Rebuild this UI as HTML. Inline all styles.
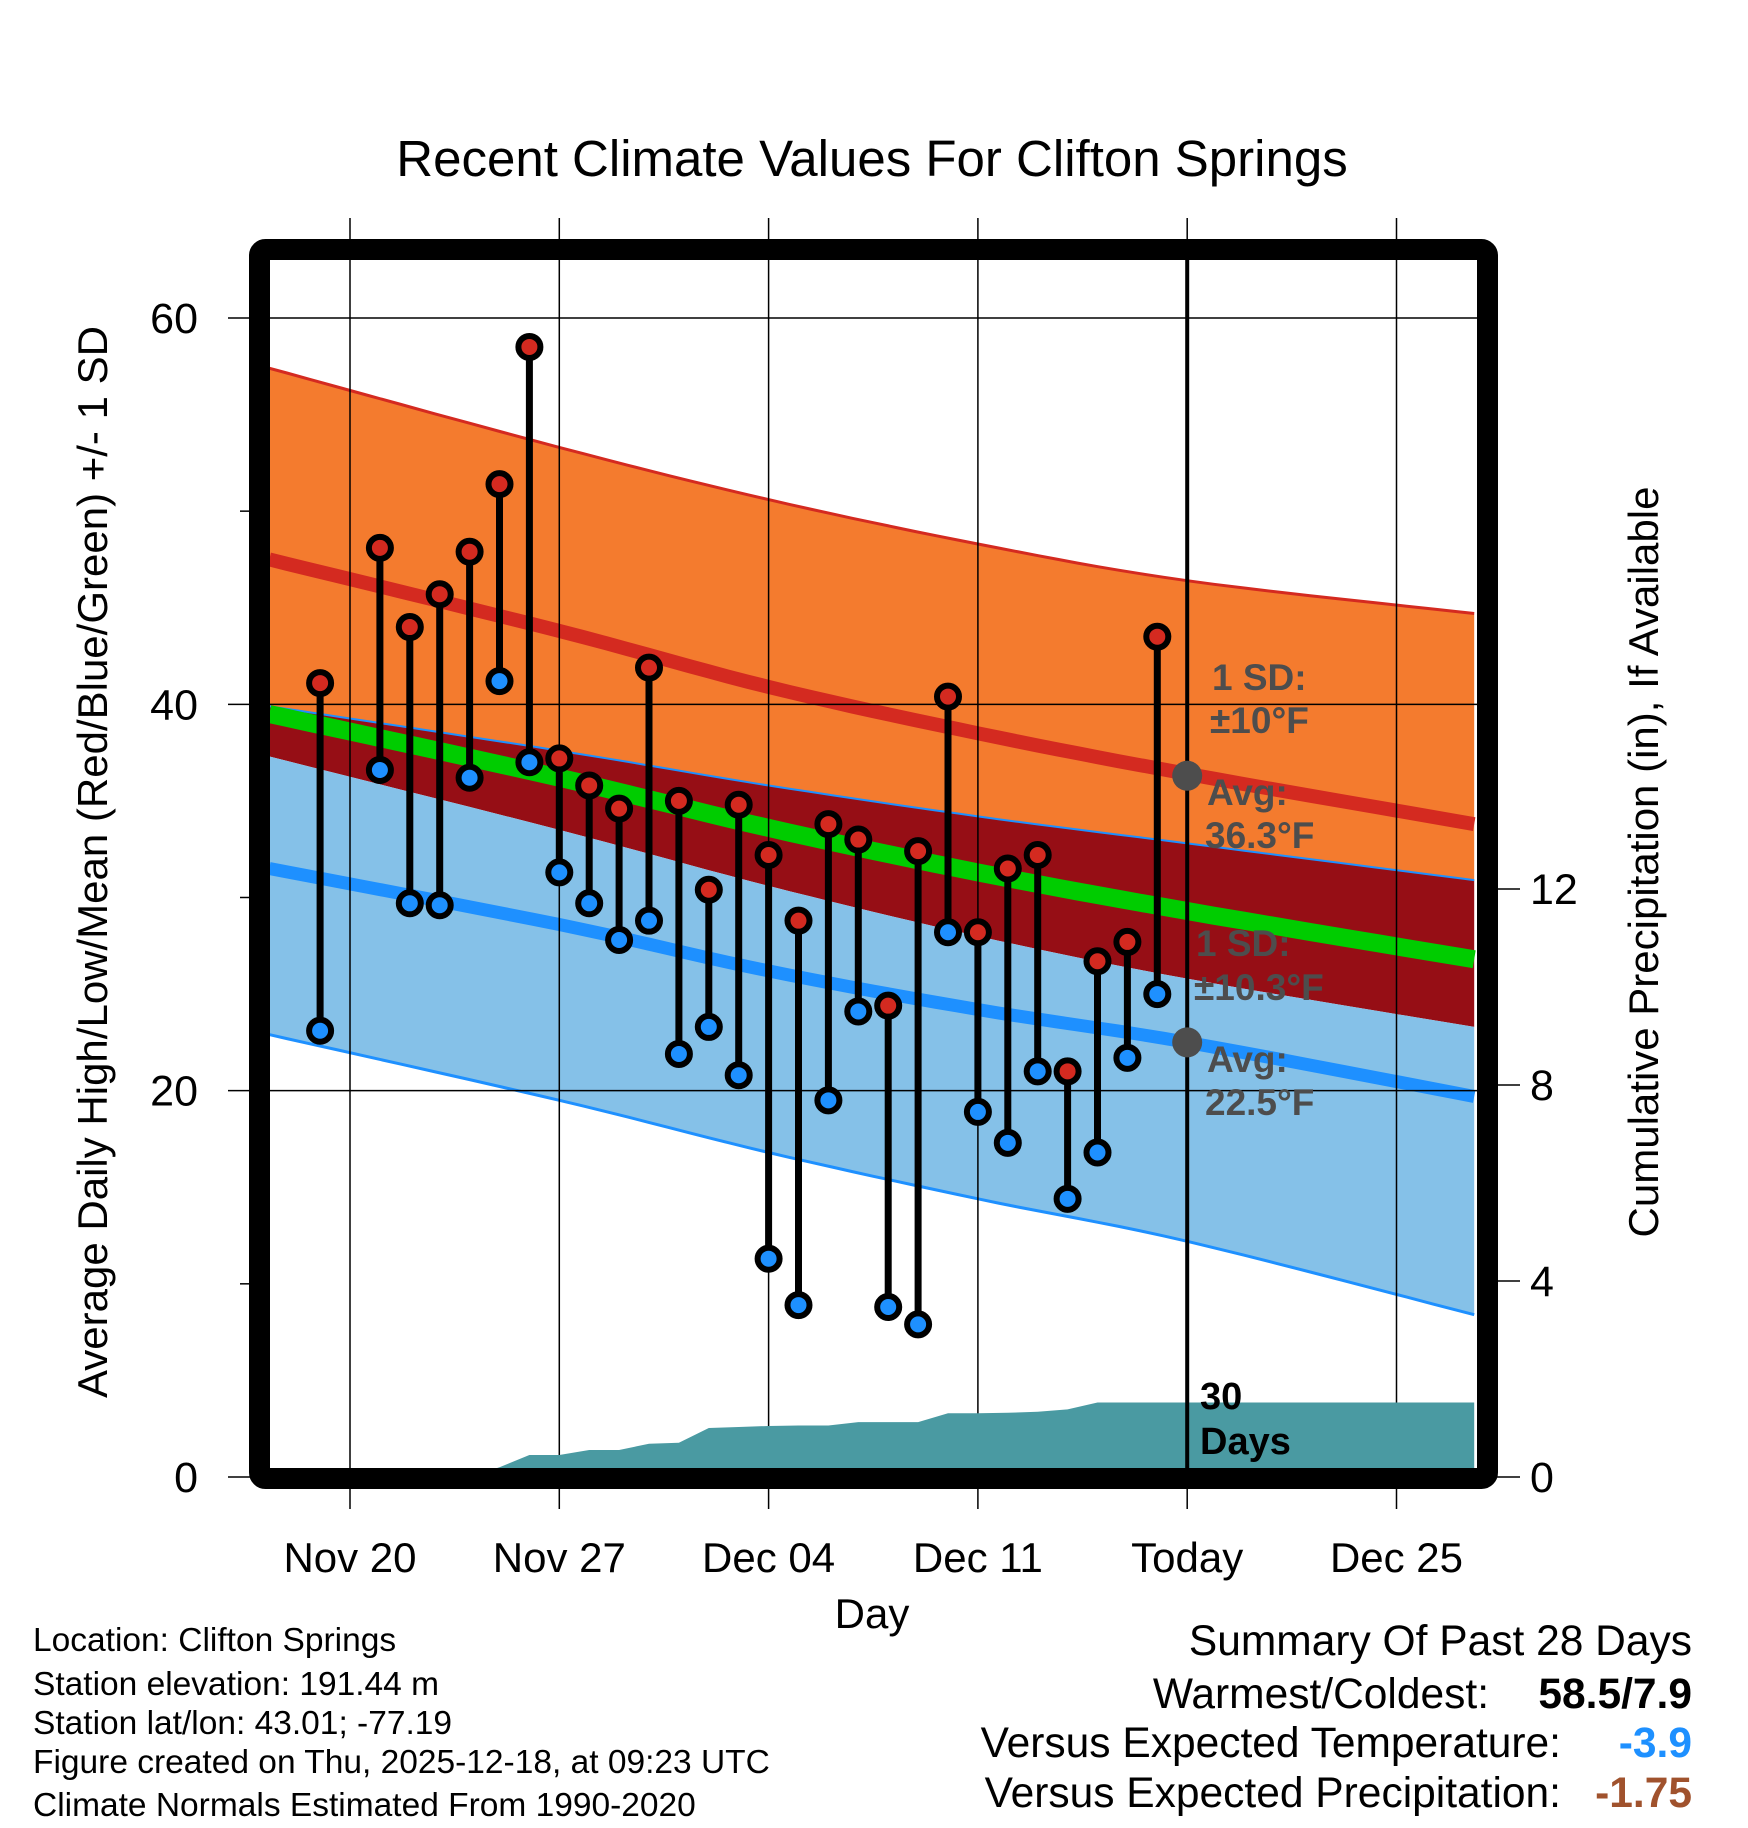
<!DOCTYPE html>
<html><head><meta charset="utf-8"><style>
html,body{margin:0;padding:0;background:#fff;}
svg{display:block;font-family:"Liberation Sans",Arial,sans-serif;}
</style></head><body>
<svg id="chart" width="1748" height="1828" viewBox="0 0 1748 1828" xmlns="http://www.w3.org/2000/svg">
<defs><clipPath id="plotclip"><rect x="270" y="260" width="1208" height="1208"/></clipPath></defs>
<text x="872" y="176" font-size="51" text-anchor="middle">Recent Climate Values For Clifton Springs</text>
<g id="bands" clip-path="url(#plotclip)"></g>
<g id="grid"></g>
<g id="precip" clip-path="url(#plotclip)"></g>
<g id="ann"></g>
<g id="marks"></g>
<rect x="259.5" y="249.5" width="1228" height="1229" fill="none" stroke="#000" stroke-width="21" rx="6"/>
<g id="axes"></g>
<text transform="translate(107,862) rotate(-90)" font-size="42" text-anchor="middle">Average Daily High/Low/Mean (Red/Blue/Green) +/- 1 SD</text>
<text transform="translate(1658,862) rotate(-90)" font-size="42" text-anchor="middle">Cumulative Precipitation (in), If Available</text>
<text x="872" y="1628" font-size="42" text-anchor="middle">Day</text>
<g font-size="33.5">
<text x="33" y="1651">Location: Clifton Springs</text>
<text x="33" y="1695">Station elevation: 191.44 m</text>
<text x="33" y="1734">Station lat/lon: 43.01; -77.19</text>
<text x="33" y="1773">Figure created on Thu, 2025-12-18, at 09:23 UTC</text>
<text x="33" y="1816">Climate Normals Estimated From 1990-2020</text>
</g>
<g font-size="42.5">
<text x="1692" y="1655" text-anchor="end">Summary Of Past 28 Days</text>
<text x="1489" y="1708" text-anchor="end">Warmest/Coldest:</text>
<text x="1692" y="1708" text-anchor="end" font-weight="bold">58.5/7.9</text>
<text x="1561" y="1757" text-anchor="end">Versus Expected Temperature:</text>
<text x="1692" y="1757" text-anchor="end" font-weight="bold" fill="#1e90ff">-3.9</text>
<text x="1561" y="1807" text-anchor="end">Versus Expected Precipitation:</text>
<text x="1692" y="1807" text-anchor="end" font-weight="bold" fill="#a0522d">-1.75</text>
</g>
</svg>
<script>
// day offsets relative to Nov 20
const normDays = [-2.7, 7, 14, 21, 28, 37.6];
const hiUpper = [57.4, 53.3, 50.6, 48.3, 46.4, 44.7];
const hiAvg = [47.5, 43.8, 40.9, 38.5, 36.4, 33.8];
const hiLower = [39.9, 37.6, 35.8, 34.2, 32.8, 30.9];
const meanAvg = [39.5, 36.2, 33.6, 31.3, 29.3, 26.8];
const loUpper = [37.3, 33.5, 30.6, 28.0, 25.8, 23.3];
const loAvg = [31.5, 28.6, 26.2, 24.2, 22.5, 19.7];
const loLower = [22.9, 19.5, 16.8, 14.4, 12.2, 8.4];
const obsDays = [-1,1,2,3,4,5,6,7,8,9,10,11,12,13,14,15,16,17,18,19,20,21,22,23,24,25,26,27];
const highs = [41.1,48.1,44.0,45.7,47.9,51.4,58.5,37.2,35.8,34.6,41.9,35.0,30.4,34.8,32.2,28.8,33.8,33.0,24.4,32.4,40.4,28.2,31.5,32.2,21.0,26.7,27.7,43.5];
const lows = [23.1,36.6,29.7,29.6,36.2,41.2,37.0,31.3,29.7,27.8,28.8,21.9,23.3,20.8,11.3,8.9,19.5,24.1,8.8,7.9,28.2,18.9,17.3,21.0,14.4,16.8,21.7,25.0];
const precipDays = [-2.7,-1,1,2,3,4,5,6,7,8,9,10,11,12,13,14,15,16,17,18,19,20,21,22,23,24,25,26,27,37.6];
const precipCum = [0,0,0,0,0,0,0.2,0.45,0.45,0.55,0.55,0.68,0.7,1.0,1.02,1.04,1.05,1.05,1.12,1.12,1.12,1.3,1.3,1.31,1.33,1.38,1.52,1.52,1.52,1.52];
const xTickDays = [0,7,14,21,28,35];
const xTickLabels = ["Nov 20","Nov 27","Dec 04","Dec 11","Today","Dec 25"];
const yTicks = [0,20,40,60];
const yMinor = [10,30,50];
const y2Ticks = [0,4,8,12];
const todayDay = 28;
const todayHiAvg = 36.3, todayLoAvg = 22.5;

const NS = "http://www.w3.org/2000/svg";
const X = d => 350 + d * 29.9;
const Y = t => 1477 - t * 19.317;
const YP = p => 1477 - p * 49.0;
function mk(tag, attrs, parent){const e=document.createElementNS(NS,tag);for(const k in attrs)e.setAttribute(k,attrs[k]);parent.appendChild(e);return e;}
function smooth(days, vals){
  const pts=[];
  for(let i=0;i<days.length-1;i++){
    const p0=i>0?i-1:i,p3=i+2<days.length?i+2:i+1;
    for(let s=0;s<10;s++){const t=s/10;
      const f=(a,b,c,d)=>0.5*((2*b)+(-a+c)*t+(2*a-5*b+4*c-d)*t*t+(-a+3*b-3*c+d)*t*t*t);
      pts.push([X(f(days[p0],days[i],days[i+1],days[p3])),Y(f(vals[p0],vals[i],vals[i+1],vals[p3]))]);}
  }
  pts.push([X(days[days.length-1]),Y(vals[vals.length-1])]);
  return pts;
}
const ptsStr = p => p.map(q=>q[0].toFixed(1)+","+q[1].toFixed(1)).join(" ");
function band(top,bot,fill,name,g){
  const a=smooth(normDays,top),b=smooth(normDays,bot).reverse();
  const e=mk("polygon",{points:ptsStr(a.concat(b)),fill:fill},g);
  
  
}
function line(vals,color,w,name,g){
  const e=mk("polyline",{points:ptsStr(smooth(normDays,vals)),fill:"none",stroke:color,"stroke-width":w},g);
  
  
}
const gb=document.getElementById("bands");
band(hiUpper,hiLower,"#f47b2e","high-sd-band",gb);
band(hiLower,loUpper,"#960e15","overlap-band",gb);
band(loUpper,loLower,"#85c1e8","low-sd-band",gb);
line(hiUpper,"#d42a20",3,"high-upper-line",gb);
line(hiLower,"#1e90ff",2,"high-lower-line",gb);
line(loLower,"#1e90ff",3,"low-lower-line",gb);
line(meanAvg,"#00cc00",18,"mean-avg-line",gb);
line(hiAvg,"#d42a20",14,"high-avg-line",gb);
line(loAvg,"#1e90ff",13,"low-avg-line",gb);

const gg=document.getElementById("grid");
xTickDays.forEach(d=>{
  const e=mk("line",{x1:X(d),x2:X(d),y1:218,y2:1509,stroke:"#000","stroke-width":1.5},gg);
  
  
});
yTicks.forEach(t=>{
  const e=mk("line",{x1:228,x2:1478,y1:Y(t),y2:Y(t),stroke:"#000","stroke-width":1.5},gg);
  
  
});

const gp=document.getElementById("precip");
const pp=precipDays.map((d,i)=>[X(d),YP(precipCum[i])]);
pp.push([X(37.6),YP(0)]);pp.push([X(-2.7),YP(0)]);
const pa=mk("polygon",{points:ptsStr(pp),fill:"#4a9aa2"},gp);



const ga=document.getElementById("ann");
const tl=mk("line",{x1:X(todayDay),x2:X(todayDay),y1:260,y2:1468,stroke:"#000","stroke-width":4},ga);


[[todayHiAvg,'today-high-dot'],[todayLoAvg,'today-low-dot']].forEach(v=>{
  const c=mk("circle",{cx:X(todayDay),cy:Y(v[0]),r:15,fill:"#4d4d4d"},ga);
  
  
});
const labs=[["1 SD:",1212,690],["\u00b110\u00b0F",1210,733],["Avg:",1207,805],["36.3\u00b0F",1205,848],
 ["1 SD:",1196,956],["\u00b110.3\u00b0F",1194,1000],["Avg:",1207,1072],["22.5\u00b0F",1205,1115]];
labs.forEach(l=>{
  const t=mk("text",{x:l[1],y:l[2],"font-size":37,"font-weight":"bold",fill:"#4d4d4d"},ga);
  t.textContent=l[0];
  
  
});
[["30",1200,1409],["Days",1200,1454]].forEach(l=>{
  const t=mk("text",{x:l[1],y:l[2],"font-size":38,"font-weight":"bold",fill:"#000"},ga);
  t.textContent=l[0];
  
  
});

const gm=document.getElementById("marks");
obsDays.forEach((d,i)=>{
  const s=mk("line",{x1:X(d),x2:X(d),y1:Y(highs[i]),y2:Y(lows[i]),stroke:"#000","stroke-width":7},gm);
  
  
});
obsDays.forEach((d,i)=>{
  const h=mk("circle",{cx:X(d),cy:Y(highs[i]),r:11,fill:"#d42a20",stroke:"#000","stroke-width":6},gm);
  
  
  const l=mk("circle",{cx:X(d),cy:Y(lows[i]),r:11,fill:"#1e90ff",stroke:"#000","stroke-width":6},gm);
  
  
});

const gx=document.getElementById("axes");
xTickDays.forEach((d,i)=>{
  const t=mk("text",{x:X(d),y:1572,"font-size":42,"text-anchor":"middle"},gx);
  t.textContent=xTickLabels[i];
  
  
});
yTicks.forEach(v=>{
  const t=mk("text",{x:198,y:Y(v)+15,"font-size":43,"text-anchor":"end"},gx);
  t.textContent=v;
  
  
});
yMinor.forEach(v=>{
  const e=mk("line",{x1:240,x2:250,y1:Y(v),y2:Y(v),stroke:"#000","stroke-width":1.5},gx);
  
  
});
y2Ticks.forEach(v=>{
  const e=mk("line",{x1:1490,x2:1520,y1:YP(v),y2:YP(v),stroke:"#000","stroke-width":1.5},gx);
  
  
  const t=mk("text",{x:1530,y:YP(v)+15,"font-size":43},gx);
  t.textContent=v;
  
  
});
</script>
</body></html>
